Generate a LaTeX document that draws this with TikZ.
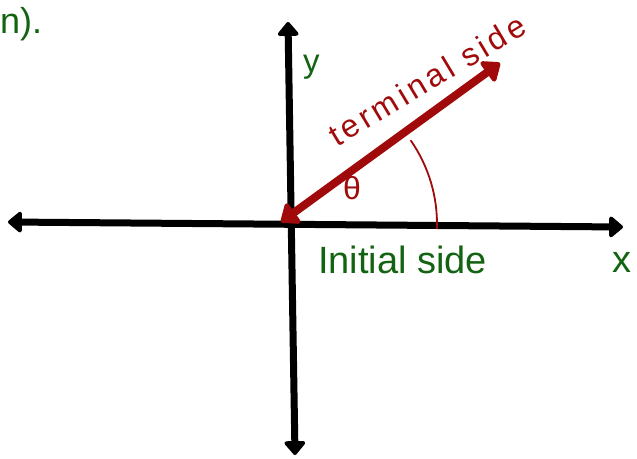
\documentclass[tikz,border=0pt]{standalone}
\usepackage{fontspec}
\setmainfont{Liberation Sans}
\newfontfamily\handfont[LetterSpace=12]{Liberation Sans}
\usetikzlibrary{arrows.meta}
\definecolor{dgreen}{RGB}{18,100,18}
\definecolor{dred}{RGB}{160,10,10}
\tikzset{
  axis/.style={line width=7pt, black, {Triangle[length=15pt,width=24pt,round]}-{Triangle[length=15pt,width=24pt,round]}},
  termline/.style={line width=8pt, dred, {Triangle[length=18pt,width=28pt,round]}-{Triangle[length=18pt,width=28pt,round]}},
  glabel/.style={text=dgreen, inner sep=0pt},
}
\begin{document}
\begin{tikzpicture}[x=1pt,y=-1pt]
\useasboundingbox (0,0) rectangle (637,458);
\coordinate (L) at (8,222);
\coordinate (R) at (623,227);
\coordinate (T) at (288,22);
\coordinate (B) at (295,455);
\coordinate (O) at (291,224);
\coordinate (Q) at (281,222);
\coordinate (P) at (500,63);
\draw[axis] (L) -- (R);
\draw[axis] (T) -- (B);
\draw[termline] (Q) -- (P);
\draw[dred, line width=1.8pt] (O) ++(-35:146) arc[start angle=-35, end angle=2, radius=146];
\node[glabel, anchor=base west, font=\fontsize{33}{33}\selectfont] (ylab) at (303,72) {y};
\node[glabel, anchor=base west, font=\fontsize{38}{38}\selectfont] (xlab) at (612,272) {x};
\node[glabel, anchor=base west, font=\fontsize{38}{38}\selectfont] (init) at (318,273) {Initial side};
\node[glabel, anchor=base west, font=\fontsize{36}{36}\selectfont] (top) at (0,33) {n).};
\node[text=dred, inner sep=0pt, rotate=31, font=\handfont\fontsize{32}{32}\selectfont] (term) at (427,80) {terminal side};
\node[text=dred, inner sep=0pt, font=\fontsize{32}{32}\selectfont] (theta) at (352,188) {θ};
\end{tikzpicture}
\end{document}
